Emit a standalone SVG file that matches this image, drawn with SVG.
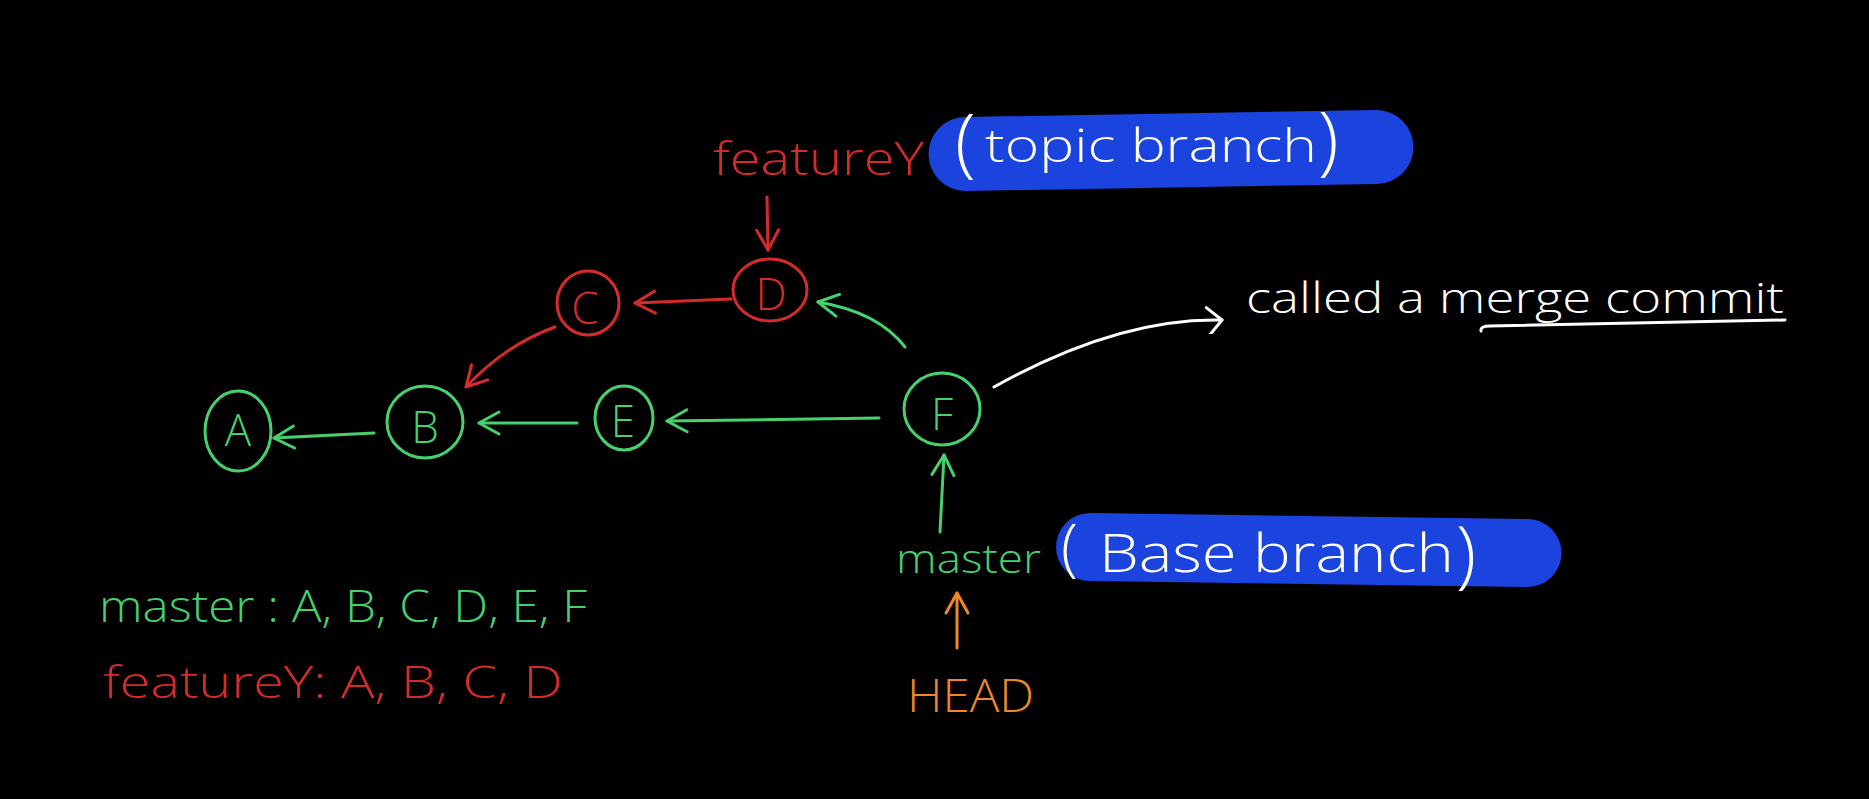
<svg xmlns="http://www.w3.org/2000/svg" width="1869" height="799" viewBox="0 0 1869 799">
<style>
.g{stroke:#46d06e}
.r{stroke:#d52b2b}
.w{stroke:#ffffff}
.o{stroke:#f0872c}
.ln{fill:none;stroke-width:3;stroke-linecap:round;stroke-linejoin:round}
.node{fill:none;stroke-width:3}
.t{font-family:"Open Sans","Liberation Sans",Arial,sans-serif;font-weight:300}
.lt{font-size:44px;text-anchor:middle;dominant-baseline:central}
.tg{fill:#46d06e}
.tr{fill:#d52b2b}
.tw{fill:#ffffff}
.to{fill:#f0872c}
.pill{fill:#1b43dd}
</style>
<defs>
<marker id="ag" markerUnits="userSpaceOnUse" viewBox="-24 -14 28 28" markerWidth="28" markerHeight="28" refX="0" refY="0" orient="auto"><path d="M-20,-11 L0,0 L-20,11" fill="none" stroke="#46d06e" stroke-width="3" stroke-linecap="round" stroke-linejoin="round"/></marker>
<marker id="ar" markerUnits="userSpaceOnUse" viewBox="-24 -14 28 28" markerWidth="28" markerHeight="28" refX="0" refY="0" orient="auto"><path d="M-20,-11 L0,0 L-20,11" fill="none" stroke="#d52b2b" stroke-width="3" stroke-linecap="round" stroke-linejoin="round"/></marker>
<marker id="aw" markerUnits="userSpaceOnUse" viewBox="-24 -14 28 28" markerWidth="28" markerHeight="28" refX="0" refY="0" orient="auto"><path d="M-16,-12 L0,0 L-14,18" fill="none" stroke="#ffffff" stroke-width="3" stroke-linecap="round" stroke-linejoin="round"/></marker>
<marker id="ao" markerUnits="userSpaceOnUse" viewBox="-24 -14 28 28" markerWidth="28" markerHeight="28" refX="0" refY="0" orient="auto"><path d="M-20,-11 L0,0 L-20,11" fill="none" stroke="#f0872c" stroke-width="3" stroke-linecap="round" stroke-linejoin="round"/></marker>
</defs>
<rect x="0" y="0" width="1869" height="799" fill="#000000"/>

<g id="connectors">
<path class="ln r" d="M767,197 L768,250" marker-end="url(#ar)"/>
<path class="ln r" d="M731,299 L635,303" marker-end="url(#ar)"/>
<path class="ln r" d="M555,327 Q505,345 466,387" marker-end="url(#ar)"/>
<path class="ln g" d="M577,423 L479,423" marker-end="url(#ag)"/>
<path class="ln g" d="M374,433 L274,438" marker-end="url(#ag)"/>
<path class="ln g" d="M879,418 L667,421" marker-end="url(#ag)"/>
<path class="ln g" d="M905,347 Q878,312 818,302" marker-end="url(#ag)"/>
<path class="ln g" d="M940,532 L944,455" marker-end="url(#ag)"/>
<path class="ln o" d="M957,648 L957,593" marker-end="url(#ao)"/>
<path class="ln w" d="M994,387 C1060,350 1140,318 1222,320" marker-end="url(#aw)"/>
</g>

<g id="node-A"><ellipse class="node g" cx="238" cy="431" rx="33" ry="40"/><text class="t lt tg" x="238" y="429">A</text></g>
<g id="node-B"><ellipse class="node g" cx="425" cy="422" rx="38" ry="36"/><text class="t lt tg" x="425" y="426">B</text></g>
<g id="node-C"><ellipse class="node r" cx="588" cy="303" rx="31" ry="32"/><text class="t lt tr" x="585" y="307">C</text></g>
<g id="node-D"><ellipse class="node r" cx="770" cy="290" rx="37" ry="31"/><text class="t lt tr" x="771" y="293">D</text></g>
<g id="node-E"><ellipse class="node g" cx="624" cy="418" rx="29" ry="32"/><text class="t lt tg" x="623" y="420">E</text></g>
<g id="node-F"><ellipse class="node g" cx="942" cy="409" rx="38" ry="36"/><text class="t lt tg" x="942" y="413">F</text></g>

<g id="label-featureY"><text class="t tr" x="713" y="175" font-size="46" textLength="211" lengthAdjust="spacingAndGlyphs">featureY</text></g>

<g id="label-topic">
<path class="pill" d="M965,117 L1376,110 A37,37 0 0 1 1377,184 L966,191 A37,37 0 0 1 965,117 Z"/>
<text class="t tw"><tspan x="955" y="168" font-size="76">(</tspan><tspan x="985" y="162" font-size="46" textLength="332" lengthAdjust="spacingAndGlyphs">topic branch</tspan><tspan x="1318" y="166" font-size="76">)</tspan></text>
</g>

<g id="label-merge">
<text class="t tw" x="1246" y="313" font-size="42" textLength="538" lengthAdjust="spacingAndGlyphs">called a merge commit</text>
<path class="ln w" d="M1481,331 Q1480,326 1490,326 L1785,320"/>
</g>

<g id="label-master"><text class="t tg" x="896" y="573" font-size="40" textLength="145" lengthAdjust="spacingAndGlyphs">master</text></g>

<g id="label-base">
<path class="pill" d="M1090,513 L1528,519 A34,34 0 0 1 1527,587 L1090,581 A34,34 0 0 1 1090,513 Z"/>
<text class="t tw"><tspan x="1061" y="569" font-size="62">(</tspan><tspan x="1099" y="572" font-size="54" textLength="355" lengthAdjust="spacingAndGlyphs">Base branch</tspan><tspan x="1456" y="579" font-size="74">)</tspan></text>
</g>

<g id="label-HEAD"><text class="t to" x="907" y="712" font-size="46" textLength="127" lengthAdjust="spacingAndGlyphs">HEAD</text></g>

<g id="list">
<text class="t tg" x="99" y="622" font-size="44" textLength="488" lengthAdjust="spacingAndGlyphs">master :  A, B, C, D, E, F</text>
<text class="t tr" x="103" y="698" font-size="44" textLength="460" lengthAdjust="spacingAndGlyphs">featureY:  A, B, C, D</text>
</g>
</svg>
